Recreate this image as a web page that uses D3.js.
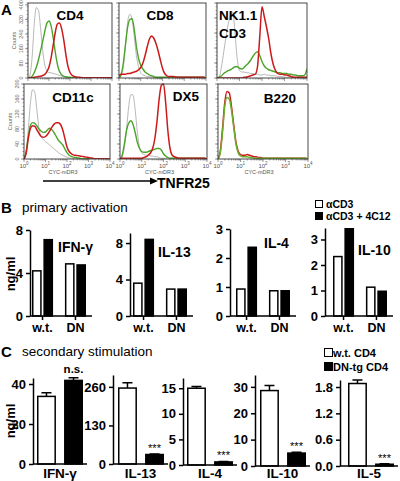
<!DOCTYPE html>
<html><head><meta charset="utf-8">
<script src="https://cdn.jsdelivr.net/npm/d3@7"></script>
<style>
body{margin:0;background:#fff}
svg{display:block}
text{font-family:"Liberation Sans",Arial,Helvetica,sans-serif}
</style>
</head><body>
<svg id="c" width="400" height="481"></svg>
<script>
// ================= DATA =================
// Panel A: flow histograms, sampled at log10(CYC-mDR3) = 0.0, 0.1, ... 4.0
const histBins = d3.range(0, 41).map(i => i / 10);
const histNames = ["CD4", "CD8", "NK1.1|CD3", "CD11c", "DX5", "B220"];
const histGrey = [
  [0,20,120,300,385,370,270,150,70,40, 30,28,25,22,18,14,10,7,5,4, 3,3,2,2,2,2,2,2,2,2, 2,2,2,2,2,2,2,2,2,2, 1],
  [0,.03,.15,.45,.75,.85,.78,.55,.3,.15, .07,.04,.03,.02,.02,.015,.01,.01,.01,.01, .01,.01,.01,.01,.01,.01,.01,.01,.01,.01, .01,.01,.01,.01,.01,.01,.01,.01,.01,.01, 0],
  [0,.02,.15,.35,.55,.72,.84,.88,.6,.25, .1,.08,.08,.07,.07,.06,.06,.05,.05,.04, .04,.05,.04,.04,.03,.03,.03,.02,.02,.02, .01,.01,.01,.01,.01,.01,.01,.01,.01,.01, 0],
  [0,20,80,150,185,178,130,80,60,52, 46,42,37,32,27,22,17,13,10,7, 5,3,2,1,1,1,1,1,1,1, 1,1,1,1,1,1,1,1,1,1, 0],
  [0,.03,.15,.4,.7,.86,.85,.65,.35,.15, .08,.06,.05,.05,.04,.04,.03,.03,.02,.01, .01,.01,.01,.01,.01,.01,.01,.01,.01,.01, .01,.01,.01,.01,.01,.01,.01,.01,.01,.01, 0],
  null
];
const histGreen = [
  [0,3,10,30,60,100,150,200,255,300, 312,285,220,140,75,35,18,10,7,5, 4,3,3,2,2,2,2,2,2,2, 2,2,2,2,2,2,2,2,2,2, 1],
  [0,.05,.2,.45,.68,.78,.79,.65,.42,.26, .17,.12,.08,.06,.04,.03,.02,.01,.01,.01, .01,.01,.01,.01,.01,.01,.01,.01,.01,.01, .01,.01,.01,.01,.01,.01,.01,.01,.01,.01, 0],
  [0,.01,.03,.06,.08,.1,.11,.13,.15,.15, .13,.12,.14,.17,.2,.24,.29,.33,.35,.3, .22,.16,.13,.11,.1,.09,.08,.07,.07,.06, .06,.06,.05,.05,.04,.04,.03,.03,.03,.04, .12],
  [0,20,60,90,97,95,88,80,74,71, 72,78,82,78,70,60,50,44,38,27, 17,10,7,5,4,3,2,1,1,1, 1,1,1,1,1,1,1,1,1,1, 0],
  [0,.05,.2,.38,.48,.51,.46,.35,.22,.14, .1,.09,.09,.1,.11,.12,.13,.14,.14,.12, .07,.04,.02,.01,.01,.01,.01,.01,.01,.01, .01,.01,.01,.01,.01,.01,.01,.01,.01,.01, 0],
  [0,.08,.35,.7,.82,.8,.65,.42,.2,.08, .04,.03,.03,.03,.02,.02,.01,.01,.01,.01, .01,.01,.01,.01,.01,.01,.01,.01,.01,.01, .01,.01,.01,.01,.01,.01,.01,.01,.01,.01, 0]
];
const histRed = [
  [0,0,2,4,6,8,10,14,20,35, 60,110,180,250,295,300,270,210,130,65, 30,15,8,5,4,3,2,2,2,2, 2,2,2,2,2,2,2,2,2,2, 1],
  [.03,.05,.05,.05,.06,.06,.07,.08,.09,.11, .14,.2,.3,.42,.52,.56,.53,.46,.36,.24, .13,.06,.03,.02,.02,.02,.015,.01,.01,.01, .01,.01,.01,.01,.01,.01,.01,.01,.01,.01, 0],
  [0,0,0,0,0,0,0,0,0,0, 0,0,.01,.01,.02,.03,.04,.05,.15,.55, .95,.82,.68,.52,.32,.18,.1,.06,.05,.05, .04,.04,.03,.02,.01,.01,.01,.01,.01,.01, .01],
  [0,15,55,82,89,87,78,68,60,58, 60,66,75,85,93,97,97,92,78,55, 32,20,14,11,10,9,8,7,6,5, 4,3,2,1,1,1,1,1,1,1, 0],
  [.01,.01,.01,.01,.01,.01,.01,.01,.01,.01, .01,.02,.03,.05,.08,.14,.27,.5,.8,.98, 1,.75,.38,.14,.05,.03,.02,.01,.01,.01, .01,.01,.01,.01,.01,.01,.01,.01,.01,.01, 0],
  [0,.1,.4,.75,.9,.88,.7,.45,.22,.1, .06,.05,.05,.06,.05,.04,.03,.03,.02,.02, .01,.01,.01,.01,.01,.01,.01,.01,.01,.01, .01,.01,.01,.01,.01,.01,.01,.01,.01,.01, 0]
];
const histYTicksCD4 = [0, 80, 160, 240, 320, 400];
const histYTicksCD11c = [0, 40, 80, 120, 160, 200];
const histXDecades = [0, 1, 2, 3, 4];

// Panel B: primary activation (ng/ml)
const primaryCytokines = ["IFN-γ", "IL-13", "IL-4", "IL-10"];
const primaryGroups = ["w.t.", "DN"];
const primarySeries = ["αCD3", "αCD3 + 4C12"];
const primaryWtCD3   = [4.2, 3.6, 0.93, 2.33];
const primaryWt4C12  = [7.1, 8.4, 2.37, 3.42];
const primaryDnCD3   = [4.85, 2.95, 0.87, 1.13];
const primaryDn4C12  = [4.75, 2.95, 0.87, 0.97];
const primaryTicks = [[0, 4, 8], [0, 4, 8], [0, 1, 2, 3], [0, 1, 2, 3]];
const primaryMax = [8, 9.1, 3, 3.45];

// Panel C: secondary stimulation (ng/ml)
const secondaryCytokines = ["IFN-γ", "IL-13", "IL-4", "IL-10", "IL-5"];
const secondarySeries = ["w.t. CD4", "DN-tg CD4"];
const secondaryWt    = [33.8, 256, 15.0, 28.6, 1.88];
const secondaryWtErr = [1.8, 18, 0.35, 1.9, 0.08];
const secondaryDn    = [41.8, 32, 0.6, 4.9, 0.04];
const secondaryDnErr = [1.3, 2, 0.1, 0.3, 0.01];
const secondarySig   = ["n.s.", "***", "***", "***", "***"];
const secondaryTicks = [[0, 20, 40], [0, 130, 260], [0, 5, 10, 15], [0, 10, 20, 30], [0, 0.6, 1.2, 1.8]];
const secondaryTickFmt = [d3.format("d"), d3.format("d"), d3.format("d"), d3.format("d"), d3.format(".1f")];
const secondaryMax = [43, 300, 17, 34.5, 1.96];

// ================= DRAW =================
const svg = d3.select("#c");
const RED = "#cc1a1a", GREEN = "#4aa52a", GREY = "#9a9a9a";

// ---------- Panel A ----------
svg.append("text").attr("x", 1).attr("y", 15).attr("font-size", 15).attr("font-weight", "bold").text("A");

const histBoxes = [
  {x0: 28, x1: 112, y0: 3, y1: 78, max: 410, ticks: histYTicksCD4, lab: [70, 20], xlab: false, anchor: "middle"},
  {x0: 119, x1: 206, y0: 3, y1: 78, max: 1, ticks: null, lab: [160, 20], xlab: false, anchor: "middle"},
  {x0: 217, x1: 307, y0: 3, y1: 78, max: 1, ticks: null, lab: [219, 20], xlab: false, anchor: "start"},
  {x0: 24, x1: 110, y0: 84, y1: 159, max: 200, ticks: histYTicksCD11c, lab: [73, 102], xlab: true, anchor: "middle"},
  {x0: 120, x1: 207, y0: 84, y1: 159, max: 1, ticks: null, lab: [186, 101], xlab: true, anchor: "middle"},
  {x0: 218, x1: 308, y0: 84, y1: 159, max: 1, ticks: null, lab: [280, 103], xlab: true, anchor: "middle"}
];

histBoxes.forEach((b, i) => {
  const g = svg.append("g");
  const x = d3.scaleLinear().domain([0, 4]).range([b.x0, b.x1]);
  const y = d3.scaleLinear().domain([0, b.max]).range([b.y1, b.y0]);
  const clipId = "clip" + i;
  g.append("clipPath").attr("id", clipId).append("rect")
    .attr("x", b.x0).attr("y", b.y0 - 1).attr("width", b.x1 - b.x0).attr("height", b.y1 - b.y0 + 1);

  // minor log ticks on x
  const minor = [];
  for (let d = 0; d < 4; d++) for (let k = 1; k <= 9; k++) minor.push(d + Math.log10(k));
  minor.push(4);
  g.selectAll(".mx").data(minor).join("line")
    .attr("x1", d => x(d)).attr("x2", d => x(d))
    .attr("y1", b.y1).attr("y2", d => b.y1 + (Number.isInteger(d) ? 3 : 1.5))
    .attr("stroke", "#555").attr("stroke-width", 0.6);
  // y ticks
  const yt = b.ticks ? b.ticks : d3.range(0, 1.01, 0.2);
  const ym = d3.range(0, b.max + 1e-9, b.max / 20);
  g.selectAll(".my").data(ym).join("line")
    .attr("x1", b.x0).attr("x2", b.x0 - 1.5)
    .attr("y1", d => y(d)).attr("y2", d => y(d))
    .attr("stroke", "#555").attr("stroke-width", 0.5);
  g.selectAll(".Y").data(yt).join("line")
    .attr("x1", b.x0).attr("x2", b.x0 - 3)
    .attr("y1", d => y(d)).attr("y2", d => y(d))
    .attr("stroke", "#555").attr("stroke-width", 0.6);
  if (b.ticks) {
    g.selectAll(".yl").data(b.ticks).join("text")
      .attr("transform", d => `translate(${b.x0 - 5},${y(d)}) rotate(-90)`)
      .attr("text-anchor", "middle").attr("font-size", 5.5).attr("fill", "#666")
      .text(d => d);
    g.append("text")
      .attr("transform", `translate(${b.x0 - 12},${(b.y0 + b.y1) / 2}) rotate(-90)`)
      .attr("text-anchor", "middle").attr("font-size", 5.5).attr("fill", "#666").text("Counts");
  }
  if (b.xlab) {
    const tl = g.selectAll(".xl").data(histXDecades).join("text")
      .attr("x", d => x(d)).attr("y", b.y1 + 9)
      .attr("text-anchor", "middle").attr("font-size", 6).attr("fill", "#555");
    tl.append("tspan").text("10");
    tl.append("tspan").attr("dy", -3).attr("font-size", 4.5).text(d => d);
    g.append("text").attr("x", (b.x0 + b.x1) / 2 - 4).attr("y", b.y1 + 14.5)
      .attr("text-anchor", "middle").attr("font-size", 5.5).attr("fill", "#555").text("CYC-mDR3");
  }

  const line = d3.line().x((d, j) => x(histBins[j])).y(d => y(d)).curve(d3.curveMonotoneX);
  const cg = g.append("g").attr("clip-path", `url(#${clipId})`);
  if (histGrey[i]) cg.append("path").attr("d", line(histGrey[i])).attr("fill", "none").attr("stroke", GREY).attr("stroke-width", 0.7);
  if (i === 5) {
    cg.append("path").attr("d", line(histRed[i])).attr("fill", "none").attr("stroke", RED).attr("stroke-width", 1.5);
    cg.append("path").attr("d", line(histGreen[i])).attr("fill", "none").attr("stroke", "#6aae2a").attr("stroke-width", 1.5);
  } else {
    cg.append("path").attr("d", line(histGreen[i])).attr("fill", "none").attr("stroke", GREEN).attr("stroke-width", 1.4);
    cg.append("path").attr("d", line(histRed[i])).attr("fill", "none").attr("stroke", RED).attr("stroke-width", 1.5);
  }

  g.append("rect").attr("x", b.x0).attr("y", b.y0).attr("width", b.x1 - b.x0).attr("height", b.y1 - b.y0)
    .attr("fill", "none").attr("stroke", "#333").attr("stroke-width", 0.9);

  const parts = histNames[i].split("|");
  parts.forEach((p, k) => {
    g.append("text").attr("x", b.lab[0]).attr("y", b.lab[1] + k * 18)
      .attr("text-anchor", b.anchor).attr("font-size", 13.5).attr("font-weight", "bold").text(p);
  });
});

// TNFR25 arrow
svg.append("line").attr("x1", 43).attr("x2", 151).attr("y1", 181).attr("y2", 181).attr("stroke", "#000").attr("stroke-width", 1.4);
svg.append("path").attr("d", "M150,177.5 L158,181 L150,184.5 Z").attr("fill", "#000");
svg.append("text").attr("x", 157).attr("y", 187.5).attr("font-size", 14).attr("font-weight", "bold").text("TNFR25");

// ---------- Panel B ----------
svg.append("text").attr("x", 1).attr("y", 213).attr("font-size", 15).attr("font-weight", "bold").text("B");
svg.append("text").attr("x", 22).attr("y", 212).attr("font-size", 13.5).text("primary activation");
svg.append("text").attr("transform", "translate(15,274) rotate(-90)").attr("text-anchor", "middle")
  .attr("font-size", 13).attr("font-weight", "bold").text("ng/ml");

// legend B
primarySeries.forEach((s, k) => {
  svg.append("rect").attr("x", 315.5).attr("y", 200.5 + k * 12).attr("width", 7).attr("height", 7)
    .attr("fill", k ? "#000" : "#fff").attr("stroke", "#000").attr("stroke-width", 1);
  svg.append("text").attr("x", 326).attr("y", 208 + k * 12).attr("font-size", 10.5).attr("font-weight", "bold").text(s);
});

const pAxisX = [30, 130, 230, 325];
const pStart = [32, 133, 236, 333];
const pTitle = [[58, 252], [158, 257], [264, 248], [358, 255]];
const pBase = 316;
const pTop = [230, 233, 229, 228];
primaryCytokines.forEach((c, i) => {
  const g = svg.append("g");
  const y = d3.scaleLinear().domain([0, primaryMax[i]]).range([pBase, pTop[i]]);
  const xg = d3.scaleBand().domain(primaryGroups).range([pStart[i], pStart[i] + 54]).paddingInner(0.36);
  const xs = d3.scaleBand().domain(primarySeries).range([0, xg.bandwidth()]).paddingInner(0.15);
  const vals = [
    {grp: "w.t.", ser: primarySeries[0], v: primaryWtCD3[i]},
    {grp: "w.t.", ser: primarySeries[1], v: primaryWt4C12[i]},
    {grp: "DN", ser: primarySeries[0], v: primaryDnCD3[i]},
    {grp: "DN", ser: primarySeries[1], v: primaryDn4C12[i]}
  ];
  g.selectAll("rect").data(vals).join("rect")
    .attr("x", d => xg(d.grp) + xs(d.ser) + 0.75)
    .attr("width", xs.bandwidth() - 1.5)
    .attr("y", d => y(d.v))
    .attr("height", d => pBase - y(d.v))
    .attr("fill", d => d.ser === primarySeries[0] ? "#fff" : "#000")
    .attr("stroke", "#000").attr("stroke-width", 1.5);
  const ax = g.append("g").attr("transform", `translate(${pAxisX[i]},0)`)
    .call(d3.axisLeft(y).tickValues(primaryTicks[i]).tickSize(4).tickSizeOuter(0).tickFormat(d3.format("d")));
  ax.select(".domain").attr("stroke-width", 1.5);
  ax.selectAll(".tick line").attr("stroke-width", 1.5);
  ax.selectAll(".tick text").attr("font-size", 13).attr("font-weight", "bold").attr("font-family", '"Liberation Sans",Arial,sans-serif').attr("fill", "#000");
  // x axis
  g.append("line").attr("x1", pAxisX[i]).attr("x2", pStart[i] + 60).attr("y1", pBase).attr("y2", pBase)
    .attr("stroke", "#000").attr("stroke-width", 1.5);
  g.selectAll(".xt").data(primaryGroups).join("line")
    .attr("x1", d => xg(d) + xg.bandwidth() / 2).attr("x2", d => xg(d) + xg.bandwidth() / 2)
    .attr("y1", pBase).attr("y2", pBase + 4).attr("stroke", "#000").attr("stroke-width", 1.5);
  g.selectAll(".xl").data(primaryGroups).join("text")
    .attr("x", d => xg(d) + xg.bandwidth() / 2).attr("y", 332)
    .attr("text-anchor", "middle").attr("font-size", 12.5).attr("font-weight", "bold").text(d => d);
  g.append("text").attr("x", pTitle[i][0]).attr("y", pTitle[i][1]).attr("font-size", 14).attr("font-weight", "bold").text(c);
});

// ---------- Panel C ----------
svg.append("text").attr("x", 1).attr("y", 357).attr("font-size", 15).attr("font-weight", "bold").text("C");
svg.append("text").attr("x", 22).attr("y", 356).attr("font-size", 13.5).text("secondary stimulation");
svg.append("text").attr("transform", "translate(15,421) rotate(-90)").attr("text-anchor", "middle")
  .attr("font-size", 13).attr("font-weight", "bold").text("ng/ml");

secondarySeries.forEach((s, k) => {
  svg.append("rect").attr("x", 324.5).attr("y", 348.5 + k * 14).attr("width", 8).attr("height", 8)
    .attr("fill", k ? "#000" : "#fff").attr("stroke", "#000").attr("stroke-width", 1);
  svg.append("text").attr("x", 333).attr("y", 356.5 + k * 14).attr("font-size", 11).attr("font-weight", "bold").text(s);
});

const sAxisX = [33, 113, 183, 255, 340];
const sStart = [37, 118, 187, 260, 348];
const sBase = [464, 464, 465, 466, 466];
const sTop = [378, 375, 378, 375, 380];
secondaryCytokines.forEach((c, i) => {
  const g = svg.append("g");
  const y = d3.scaleLinear().domain([0, secondaryMax[i]]).range([sBase[i], sTop[i]]);
  const xg = d3.scaleBand().domain(secondarySeries).range([sStart[i], sStart[i] + 46]).paddingInner(0.3);
  const vals = [
    {ser: secondarySeries[0], v: secondaryWt[i], e: secondaryWtErr[i]},
    {ser: secondarySeries[1], v: secondaryDn[i], e: secondaryDnErr[i]}
  ];
  // error bars
  g.selectAll(".eb").data(vals).join("path")
    .attr("d", d => {
      const cx = xg(d.ser) + xg.bandwidth() / 2, y0 = y(d.v), y1 = y(d.v + d.e);
      return `M${cx},${y0}V${y1}M${cx - 5},${y1}H${cx + 5}`;
    })
    .attr("stroke", "#000").attr("stroke-width", 1.5).attr("fill", "none");
  g.selectAll("rect").data(vals).join("rect")
    .attr("x", d => xg(d.ser) + 0.75).attr("width", xg.bandwidth() - 1.5)
    .attr("y", d => y(d.v)).attr("height", d => sBase[i] - y(d.v))
    .attr("fill", d => d.ser === secondarySeries[0] ? "#fff" : "#000")
    .attr("stroke", "#000").attr("stroke-width", 1.5);
  const ax = g.append("g").attr("transform", `translate(${sAxisX[i]},0)`)
    .call(d3.axisLeft(y).tickValues(secondaryTicks[i]).tickSize(4).tickSizeOuter(0).tickFormat(secondaryTickFmt[i]));
  ax.select(".domain").attr("stroke-width", 1.5);
  ax.selectAll(".tick line").attr("stroke-width", 1.5);
  ax.selectAll(".tick text").attr("font-size", 13).attr("font-weight", "bold").attr("font-family", '"Liberation Sans",Arial,sans-serif').attr("fill", "#000");
  g.append("line").attr("x1", sAxisX[i]).attr("x2", sStart[i] + 50).attr("y1", sBase[i]).attr("y2", sBase[i])
    .attr("stroke", "#000").attr("stroke-width", 1.5);
  // significance
  const dn = vals[1];
  const cx = xg(dn.ser) + xg.bandwidth() / 2;
  g.append("text").attr("x", cx).attr("y", y(dn.v + dn.e) - (secondarySig[i] === "n.s." ? 5 : 2))
    .attr("text-anchor", "middle").attr("font-size", secondarySig[i] === "n.s." ? 11.5 : 11)
    .attr("font-weight", secondarySig[i] === "n.s." ? "bold" : "normal").text(secondarySig[i]);
  g.append("text").attr("x", (sAxisX[i] + sStart[i] + 46) / 2 + 2).attr("y", 478)
    .attr("text-anchor", "middle").attr("font-size", 13.5).attr("font-weight", "bold").text(c);
});
</script>
</body></html>
